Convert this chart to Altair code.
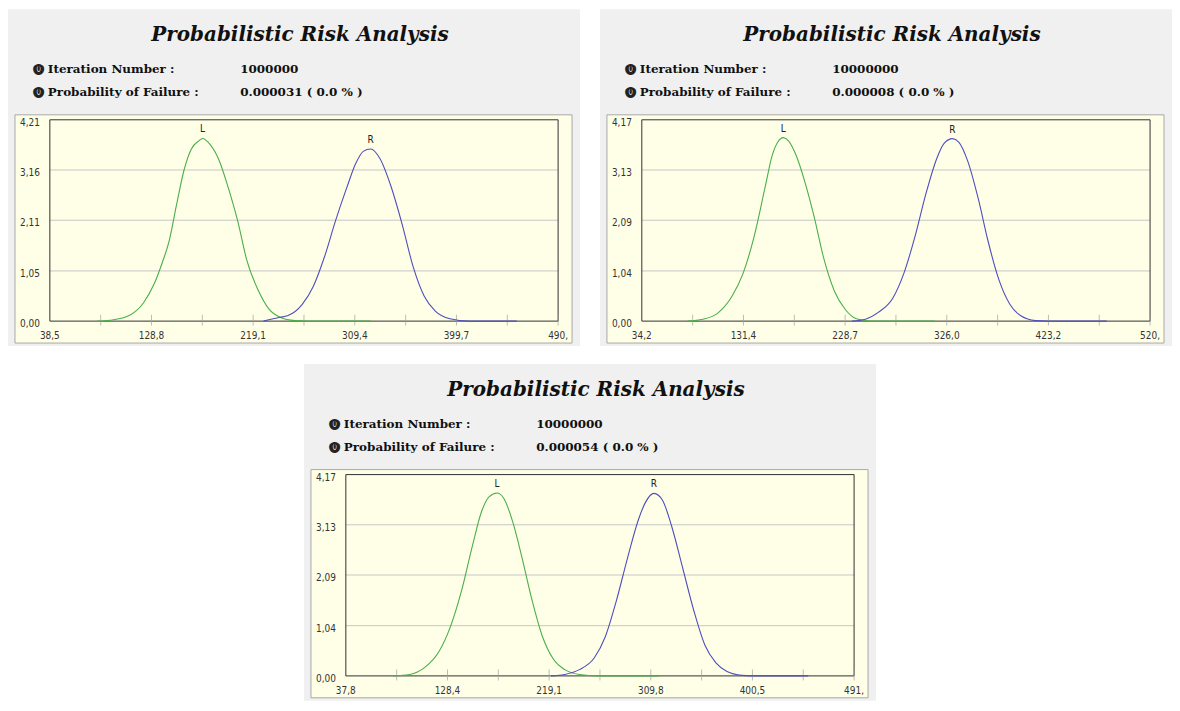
import altair as alt
import pandas as pd

# ---------------- text ----------------
TITLE = "Probabilistic Risk Analysis"
LABEL_ITER = "Iteration Number :"
LABEL_POF = "Probability of Failure :"
BULLET = "\u24ff"

iterations = ["1000000", "10000000", "10000000"]
failure = ["0.000031 ( 0.0 % )", "0.000008 ( 0.0 % )", "0.000054 ( 0.0 % )"]

# ---------------- axes ----------------
x_major_1 = [38.5, 128.8, 219.1, 309.4, 399.7, 490.0]
x_labels_1 = ["38,5", "128,8", "219,1", "309,4", "399,7", "490,"]
x_minor_1 = [83.65, 173.95, 264.25, 354.55, 444.85]
y_ticks_1 = [0.0, 1.05, 2.11, 3.16, 4.21]
y_labels_1 = ["0,00", "1,05", "2,11", "3,16", "4,21"]

x_major_2 = [34.2, 131.45, 228.7, 325.95, 423.2, 520.45]
x_labels_2 = ["34,2", "131,4", "228,7", "326,0", "423,2", "520,"]
x_minor_2 = [82.825, 180.075, 277.325, 374.575, 471.825]
y_ticks_2 = [0.0, 1.04, 2.09, 3.13, 4.17]
y_labels_2 = ["0,00", "1,04", "2,09", "3,13", "4,17"]

x_major_3 = [37.75, 128.43, 219.11, 309.79, 400.47, 491.15]
x_labels_3 = ["37,8", "128,4", "219,1", "309,8", "400,5", "491,"]
x_minor_3 = [83.09, 173.77, 264.45, 355.13, 445.81]
y_ticks_3 = [0.0, 1.04, 2.09, 3.13, 4.17]
y_labels_3 = ["0,00", "1,04", "2,09", "3,13", "4,17"]

# ---------------- curves ----------------
L_x1 = [80.5, 95.3, 108.4, 121.6, 131.4, 138.0, 144.5, 151.1, 157.7, 164.2, 170.8, 174.1,
        180.6, 188.9, 197.1, 205.3, 213.5, 223.3, 233.2, 243.0, 256.2, 267.7, 323.5]
L_y1 = [0, 0.03, 0.11, 0.38, 0.79, 1.2, 1.68, 2.44, 3.16, 3.6, 3.77, 3.82,
        3.7, 3.36, 2.78, 2.1, 1.27, 0.66, 0.25, 0.08, 0.01, 0, 0]
R_x1 = [228.3, 243.0, 249.6, 262.7, 272.6, 282.4, 292.3, 302.1, 310.3, 316.9, 323.5,
        331.7, 341.5, 351.4, 361.2, 371.1, 380.9, 394.0, 410.5, 453.2]
R_y1 = [0, 0.08, 0.11, 0.35, 0.73, 1.34, 2.1, 2.78, 3.3, 3.55, 3.6,
        3.4, 2.82, 2.03, 1.14, 0.52, 0.21, 0.05, 0, 0]

L_x2 = [77.9, 92.6, 106.6, 120.6, 131.1, 141.5, 152.0, 159.0, 164.3, 169.5, 174.7,
        181.7, 190.5, 199.2, 207.9, 218.5, 228.9, 239.4, 253.4, 314.6]
L_y2 = [0, 0.04, 0.16, 0.52, 0.99, 1.74, 2.76, 3.44, 3.71, 3.80, 3.73,
        3.44, 2.86, 2.15, 1.33, 0.62, 0.24, 0.05, 0, 0]
R_x2 = [235.3, 248.2, 260.4, 274.4, 284.9, 295.4, 305.9, 316.4, 323.4, 331.4, 337.4,
        346.1, 356.6, 365.3, 375.8, 386.3, 396.8, 410.8, 423.0, 478.9]
R_y2 = [0, 0.04, 0.18, 0.48, 0.99, 1.74, 2.63, 3.37, 3.68, 3.78, 3.71,
        3.31, 2.49, 1.67, 0.86, 0.35, 0.11, 0.01, 0, 0]

L_x3 = [79.9, 94.7, 107.9, 121.0, 130.9, 140.8, 150.7, 158.9, 165.5, 172.7, 178.6,
        186.9, 195.1, 203.3, 213.2, 223.1, 233.0, 246.1, 262.6, 316.9]
L_y3 = [0, 0.03, 0.17, 0.51, 1.01, 1.75, 2.70, 3.41, 3.71, 3.79, 3.68,
        3.17, 2.43, 1.62, 0.81, 0.34, 0.13, 0.03, 0, 0]
R_x3 = [220.8, 233.0, 246.1, 259.3, 269.2, 279.0, 288.9, 298.8, 305.4, 312.6, 320.2,
        328.4, 338.3, 348.2, 358.0, 367.9, 377.8, 391.0, 399.2, 450.2]
R_y3 = [0, 0.03, 0.13, 0.37, 0.81, 1.55, 2.43, 3.24, 3.61, 3.78, 3.64,
        3.10, 2.23, 1.35, 0.64, 0.27, 0.09, 0.01, 0, 0]

# ---------------- styling / layout ----------------
W, H = 574, 338
PX0, PX1 = 42, 552          # plot area x range inside panel
PY0, PY1 = 313, 111         # plot area y range (bottom, top)
BOX = (7, 566, 106, 335)    # yellow box
PANEL_BG = "#F0F0F0"
BOX_BG = "#FFFFE8"
GREEN = "#4AAE4A"
BLUE = "#4E4EBE"
AX_FONT = "Liberation Sans Narrow, DejaVu Sans Condensed, Arial Narrow, sans-serif"
SERIF = "DejaVu Serif"


def panel(i, xmaj, xlab, xmin_t, yt, ylab, Lx, Ly, Rx, Ry):
    x0, x1 = xmaj[0], xmaj[-1]
    y0, y1 = yt[0], yt[-1]
    xs = alt.Scale(domain=[x0, x1], range=[PX0, PX1], nice=False, zero=False)
    ys = alt.Scale(domain=[y0, y1], range=[PY0, PY1], nice=False, zero=False)

    one = pd.DataFrame({"k": [0]})

    box = alt.Chart(one).mark_rect(fill=BOX_BG, stroke="#A8A8A8", strokeWidth=1).encode(
        x=alt.value(BOX[0]), x2=alt.value(BOX[1]), y=alt.value(BOX[2]), y2=alt.value(BOX[3])
    )

    grid = alt.Chart(pd.DataFrame({"g": yt[1:-1]})).mark_rule(color="#C6C6C6", strokeWidth=1).encode(
        y=alt.Y("g:Q", scale=ys, axis=None),
        x=alt.XDatum(x0, scale=xs, axis=None),
        x2=alt.X2Datum(x1),
    )

    border = alt.Chart(one).mark_rect(fillOpacity=0, stroke="#303030", strokeWidth=1).encode(
        x=alt.XDatum(x0, scale=xs, axis=None),
        x2=alt.X2Datum(x1),
        y=alt.YDatum(y0, scale=ys, axis=None),
        y2=alt.Y2Datum(y1),
    )

    ticks = alt.Chart(pd.DataFrame({"t": xmaj[1:] + xmin_t})).mark_tick(
        orient="vertical", size=11, thickness=1, color="#A0A0A0", yOffset=-1
    ).encode(
        x=alt.X("t:Q", scale=xs, axis=None),
        y=alt.YDatum(0, scale=ys, axis=None),
    )

    xlabels = alt.Chart(pd.DataFrame({"v": xmaj, "lab": xlab})).mark_text(
        font=AX_FONT, fontSize=10, color="#333333", baseline="middle", align="center", dy=15
    ).encode(
        x=alt.X("v:Q", scale=xs, axis=None),
        y=alt.YDatum(0, scale=ys, axis=None),
        text="lab:N",
    )

    ylabels = alt.Chart(pd.DataFrame({"v": yt, "lab": ylab})).mark_text(
        font=AX_FONT, fontSize=10, color="#333333", baseline="middle", align="right", dx=-10, dy=3
    ).encode(
        x=alt.XDatum(x0, scale=xs, axis=None),
        y=alt.Y("v:Q", scale=ys, axis=None),
        text="lab:N",
    )

    curves = pd.DataFrame({
        "x": Lx + Rx,
        "y": Ly + Ry,
        "s": ["L"] * len(Lx) + ["R"] * len(Rx),
    })
    lines = alt.Chart(curves).mark_line(interpolate="monotone", strokeWidth=1.1).encode(
        x=alt.X("x:Q", scale=xs, axis=None),
        y=alt.Y("y:Q", scale=ys, axis=None),
        color=alt.Color("s:N", scale=alt.Scale(domain=["L", "R"], range=[GREEN, BLUE]), legend=None),
        detail="s:N",
    )

    peaks = pd.DataFrame({
        "s": ["L", "R"],
        "px": [Lx[Ly.index(max(Ly))], Rx[Ry.index(max(Ry))]],
        "py": [max(Ly), max(Ry)],
    })
    plabels = alt.Chart(peaks).mark_text(dy=-9, fontSize=10, font=AX_FONT, color="#222222").encode(
        x=alt.X("px:Q", scale=xs, axis=None),
        y=alt.Y("py:Q", scale=ys, axis=None),
        text="s:N",
    )

    head = pd.DataFrame({
        "title": [TITLE], "b": [BULLET], "l1": [LABEL_ITER], "l2": [LABEL_POF],
        "v1": [iterations[i]], "v2": [failure[i]],
    })
    title = alt.Chart(head).mark_text(
        font=SERIF, fontSize=20, fontWeight="bold", fontStyle="italic",
        align="center", baseline="middle", color="#111111"
    ).encode(x=alt.value(293), y=alt.value(26), text="title:N")

    info_style = dict(font=SERIF, fontSize=12, fontWeight="bold", align="left",
                      baseline="middle", color="#111111")
    texts = [title]
    for yy, lab, val in [(60, "l1:N", "v1:N"), (83, "l2:N", "v2:N")]:
        texts.append(alt.Chart(head).mark_text(
            font="DejaVu Sans", fontSize=11, align="center", baseline="middle", color="#222222"
        ).encode(x=alt.value(31), y=alt.value(yy), text="b:N"))
        texts.append(alt.Chart(head).mark_text(**info_style).encode(
            x=alt.value(40), y=alt.value(yy), text=lab))
        texts.append(alt.Chart(head).mark_text(**info_style).encode(
            x=alt.value(233), y=alt.value(yy), text=val))

    return alt.layer(box, grid, border, ticks, lines, xlabels, ylabels, plabels, *texts).properties(
        width=W, height=H, view=alt.ViewBackground(fill=PANEL_BG, stroke=None)
    )


p1 = panel(0, x_major_1, x_labels_1, x_minor_1, y_ticks_1, y_labels_1, L_x1, L_y1, R_x1, R_y1)
p2 = panel(1, x_major_2, x_labels_2, x_minor_2, y_ticks_2, y_labels_2, L_x2, L_y2, R_x2, R_y2)
p3 = panel(2, x_major_3, x_labels_3, x_minor_3, y_ticks_3, y_labels_3, L_x3, L_y3, R_x3, R_y3)

top = alt.hconcat(p1, p2, spacing=20)
chart = alt.vconcat(top, p3, spacing=18, center=True).properties(
    padding=0, background="white"
).configure_view(stroke=None)

chart.save("out.html", embed_options={"renderer": "svg", "actions": False})
